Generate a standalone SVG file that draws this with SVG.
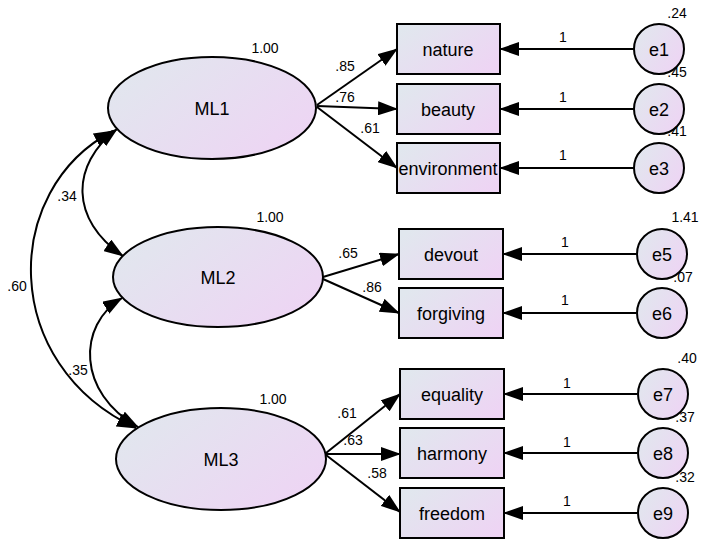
<svg xmlns="http://www.w3.org/2000/svg" width="702" height="546" viewBox="0 0 702 546">
<defs>
<linearGradient id="g" x1="0" y1="0.2" x2="1" y2="0.8">
<stop offset="0" stop-color="#e1e7ee"/>
<stop offset="1" stop-color="#eed4f4"/>
</linearGradient>
<marker id="ah" markerUnits="userSpaceOnUse" markerWidth="20" markerHeight="14" refX="19" refY="7" orient="auto-start-reverse">
<path d="M0,0 L20,7 L0,14 z" fill="#000"/>
</marker>
<style>
.n{fill:url(#g);stroke:#000;stroke-width:2}
.t{font-family:"Liberation Sans",Arial,sans-serif;font-size:18px;text-anchor:middle;fill:#000}
.v{font-family:"Liberation Sans",Arial,sans-serif;font-size:14px;text-anchor:middle;fill:#000}
.c{fill:none;stroke:#000;stroke-width:2;marker-end:url(#ah)}
.d{fill:none;stroke:#000;stroke-width:2;marker-start:url(#ah);marker-end:url(#ah)}
</style>
</defs>
<rect width="702" height="546" fill="#fff"/>
<g id="connectors">
<path class="d" d="M113,131 C0,190 0,365 136,428"/>
<path class="d" d="M117,129 C70,165 70,220 123,256"/>
<path class="d" d="M122,298 C77,325 77,393 138,427"/>
<path class="c" d="M317,105 L397,49"/>
<path class="c" d="M317,106 L397,109"/>
<path class="c" d="M317,107 L397,168"/>
<path class="c" d="M323,277 L399,254"/>
<path class="c" d="M323,279 L399,313"/>
<path class="c" d="M326,453 L400,394"/>
<path class="c" d="M326,454 L400,454"/>
<path class="c" d="M326,455 L400,512"/>
<path class="c" d="M634,49 L500,49"/>
<path class="c" d="M634,109 L500,109"/>
<path class="c" d="M634,168 L500,168"/>
<path class="c" d="M636,254 L503,254"/>
<path class="c" d="M636,313 L503,313"/>
<path class="c" d="M637,394 L504,394"/>
<path class="c" d="M637,453 L504,453"/>
<path class="c" d="M637,513 L504,513"/>
<text class="v" x="67" y="201">.34</text>
<text class="v" x="17" y="291">.60</text>
<text class="v" x="78" y="375">.35</text>
<text class="v" x="345" y="71">.85</text>
<text class="v" x="345" y="102">.76</text>
<text class="v" x="370" y="133">.61</text>
<text class="v" x="348" y="258">.65</text>
<text class="v" x="372" y="292">.86</text>
<text class="v" x="347" y="418">.61</text>
<text class="v" x="353" y="445">.63</text>
<text class="v" x="377" y="478">.58</text>
<text class="v" x="563" y="42">1</text>
<text class="v" x="563" y="102">1</text>
<text class="v" x="563" y="160">1</text>
<text class="v" x="565" y="247">1</text>
<text class="v" x="565" y="305">1</text>
<text class="v" x="567" y="388">1</text>
<text class="v" x="567" y="447">1</text>
<text class="v" x="567" y="506">1</text>
</g>
<g id="ML1"><ellipse class="n" cx="212" cy="108" rx="104" ry="51"/><text class="t" x="212" y="115">ML1</text><text class="v" x="265" y="53">1.00</text></g>
<g id="ML2"><ellipse class="n" cx="218" cy="277" rx="105" ry="50"/><text class="t" x="218" y="284">ML2</text><text class="v" x="270" y="222">1.00</text></g>
<g id="ML3"><ellipse class="n" cx="221" cy="459" rx="105" ry="51"/><text class="t" x="221" y="466">ML3</text><text class="v" x="273" y="404">1.00</text></g>
<g id="nature"><rect class="n" x="397" y="24" width="103" height="50"/><text class="t" x="448" y="56">nature</text></g>
<g id="beauty"><rect class="n" x="397" y="84" width="103" height="50"/><text class="t" x="448" y="116">beauty</text></g>
<g id="environment"><rect class="n" x="397" y="143" width="103" height="50"/><text class="t" x="448" y="175">environment</text></g>
<g id="devout"><rect class="n" x="399" y="229" width="104" height="50"/><text class="t" x="451" y="261">devout</text></g>
<g id="forgiving"><rect class="n" x="399" y="288" width="104" height="50"/><text class="t" x="451" y="320">forgiving</text></g>
<g id="equality"><rect class="n" x="400" y="369" width="104" height="50"/><text class="t" x="452" y="401">equality</text></g>
<g id="harmony"><rect class="n" x="400" y="428" width="104" height="50"/><text class="t" x="452" y="460">harmony</text></g>
<g id="freedom"><rect class="n" x="400" y="488" width="104" height="50"/><text class="t" x="452" y="520">freedom</text></g>
<g id="e1"><circle class="n" cx="659" cy="49" r="25"/><text class="t" x="659" y="56">e1</text><text class="v" x="677" y="18">.24</text></g>
<g id="e2"><circle class="n" cx="659" cy="109" r="25"/><text class="t" x="659" y="116">e2</text><text class="v" x="677" y="77">.45</text></g>
<g id="e3"><circle class="n" cx="659" cy="168" r="25"/><text class="t" x="659" y="175">e3</text><text class="v" x="677" y="136">.41</text></g>
<g id="e5"><circle class="n" cx="662" cy="254" r="25"/><text class="t" x="662" y="261">e5</text><text class="v" x="685" y="222">1.41</text></g>
<g id="e6"><circle class="n" cx="662" cy="313" r="25"/><text class="t" x="662" y="320">e6</text><text class="v" x="683" y="282">.07</text></g>
<g id="e7"><circle class="n" cx="663" cy="394" r="25"/><text class="t" x="663" y="401">e7</text><text class="v" x="687" y="363">.40</text></g>
<g id="e8"><circle class="n" cx="663" cy="453" r="25"/><text class="t" x="663" y="460">e8</text><text class="v" x="685" y="422">.37</text></g>
<g id="e9"><circle class="n" cx="663" cy="513" r="25"/><text class="t" x="663" y="520">e9</text><text class="v" x="685" y="482">.32</text></g>
</svg>
